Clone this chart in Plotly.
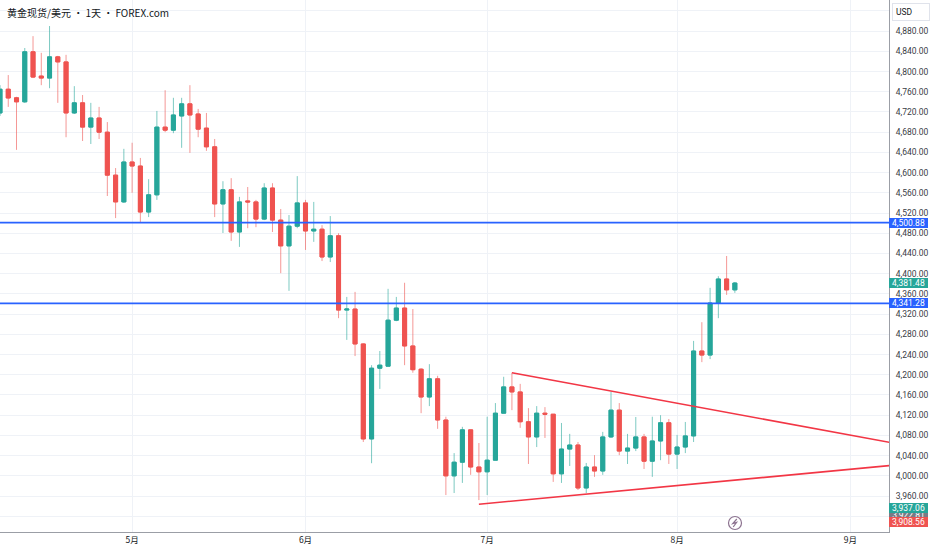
import plotly.graph_objects as go
import pandas as pd

# ---------------- data ----------------
dates = pd.bdate_range("2026-04-09", "2026-08-12")  # daily trading sessions

opens = [4718, 4765, 4748, 4740, 4839, 4791, 4787, 4829, 4819, 4718,
         4738, 4690, 4708, 4680, 4595, 4542, 4621, 4613, 4522, 4556,
         4690, 4684, 4712, 4736, 4716, 4688, 4651, 4538, 4566, 4482.5,
         4544, 4542, 4508, 4569.5, 4506, 4455, 4494, 4540, 4484.5, 4488,
         4433, 4475, 4328, 4330, 4261, 4073, 4213, 4217, 4308, 4332,
         4257, 4211, 4156, 4192, 4110.5, 4000, 4027, 4091, 4017.5, 4008,
         4031, 4124, 4176, 4166, 4107, 4077, 4124, 4122, 4004, 4053,
         4061, 3976, 4017.5, 4009.6, 4077, 4130, 4049, 4055, 4077, 4029,
         4069, 4105, 4043, 4057, 4079, 4247, 4239, 4342, 4389.5, 4368]

highs = [4773, 4793, 4750, 4846.5, 4870, 4837, 4890, 4831, 4833, 4771,
         4753.5, 4738, 4730, 4700, 4609, 4647, 4659, 4629, 4587, 4722,
         4763, 4748, 4748, 4773, 4726, 4718, 4666.5, 4583, 4589, 4552,
         4571.5, 4546, 4579, 4579, 4528, 4516, 4593, 4546, 4542, 4496,
         4514, 4480, 4354, 4364, 4262, 4219, 4247, 4370, 4354, 4382,
         4330, 4213, 4221, 4198, 4117, 4045, 4097, 4091, 4065, 4117,
         4144, 4196, 4204, 4182, 4134, 4138, 4136, 4122, 4104.6, 4083,
         4067, 4025.5, 4041, 4087, 4166, 4144, 4083, 4116.5, 4083, 4117,
         4120, 4112.5, 4081, 4106.6, 4267, 4304, 4372, 4395, 4435, 4383.6]

lows = [4712, 4730, 4645, 4738, 4787, 4773, 4767, 4738, 4670, 4716,
        4662.5, 4656.6, 4666.5, 4553.7, 4510, 4540, 4560, 4502, 4512, 4546,
        4680, 4678, 4649, 4639, 4670, 4643, 4512, 4480.5, 4465, 4453,
        4490, 4492, 4506, 4482.5, 4401, 4366, 4490, 4447, 4463, 4425,
        4423, 4312, 4269, 4237, 4067, 4025, 4172, 4217, 4306, 4219,
        4204, 4124, 4138, 4093, 3962, 3966, 3986, 4002, 3952, 3962,
        4031, 4124, 4130, 4095, 4023.5, 4057, 4075, 3988, 3986, 4019.5,
        3972, 3966, 3998, 4002, 4075, 4041, 4023.5, 4049, 4013.6, 3998,
        4031, 4023.5, 4013.6, 4045, 4067, 4225, 4231, 4312, 4358, 4362]

closes = [4765, 4747.6, 4740, 4839, 4789, 4787, 4829, 4819, 4718, 4738,
          4690, 4708, 4680, 4595, 4542, 4621, 4613, 4522, 4556, 4690,
          4684, 4714, 4736, 4714, 4686, 4651, 4538, 4566, 4482.5, 4542,
          4542, 4508, 4569.5, 4506, 4455, 4494, 4540, 4484.5, 4488, 4433,
          4475, 4328, 4330, 4261, 4073, 4213, 4219, 4308, 4332, 4257,
          4210, 4156, 4192, 4110.5, 4000, 4027, 4091, 4017.5, 4008, 4031,
          4124, 4176, 4166, 4107, 4077, 4124, 4122, 4004, 4053, 4061,
          3976, 4017.5, 4009.6, 4077, 4130, 4049, 4055, 4077, 4029, 4069,
          4105, 4043, 4057, 4079, 4247, 4239, 4342, 4389.5, 4368, 4381.48]

month_ticks = ["2026-05-01", "2026-06-01", "2026-07-01", "2026-08-03", "2026-09-01"]
month_labels = ["5月", "6月", "7月", "8月", "9月"]

price_ticks = list(range(3960, 4881, 40))

hline_prices = [4500.88, 4341.28]

upper_line_dates = ["2026-07-06", "2026-09-10"]
upper_line_prices = [4204, 4059.5]
lower_line_dates = ["2026-06-30", "2026-09-10"]
lower_line_prices = [3943.9, 4023.8]

label_prices = [4500.88, 4381.48, 4341.28, 3922.81, 3937.06, 3908.56]
label_colors = ["#2962ff", "#26a69a", "#2962ff", "#787b86", "#26a69a", "#ef5350"]

title_text = "黄金现货/美元 · 1天 · FOREX.com"

# ---------------- styling ----------------
GREEN = "#26a69a"
RED = "#ef5350"
GRID = "#eff2f7"
AXIS = "#9b9ea6"
TEXT = "#131722"
FONT = "Roboto, Liberation Sans, sans-serif"
PLOT_W, PLOT_H = 889, 532

body_high = [max(o, c) for o, c in zip(opens, closes)]
body_low = [min(o, c) for o, c in zip(opens, closes)]

fig = go.Figure()

# wicks (lighter)
fig.add_trace(go.Candlestick(
    x=dates, open=opens, high=highs, low=lows, close=closes,
    increasing=dict(line=dict(color="rgba(38,166,154,0.6)", width=1), fillcolor="rgba(38,166,154,0.6)"),
    decreasing=dict(line=dict(color="rgba(239,83,80,0.6)", width=1), fillcolor="rgba(239,83,80,0.6)"),
    hoverinfo="skip", showlegend=False,
))
# bodies
fig.add_trace(go.Candlestick(
    x=dates, open=opens, high=body_high, low=body_low, close=closes,
    increasing=dict(line=dict(color=GREEN, width=1), fillcolor=GREEN),
    decreasing=dict(line=dict(color=RED, width=1), fillcolor=RED),
    hoverinfo="skip", showlegend=False,
))

# trend lines (triangle)
fig.add_trace(go.Scatter(x=upper_line_dates, y=upper_line_prices, mode="lines",
                         line=dict(color="#f23645", width=1.6), hoverinfo="skip", showlegend=False))
fig.add_trace(go.Scatter(x=lower_line_dates, y=lower_line_prices, mode="lines",
                         line=dict(color="#f23645", width=1.6), hoverinfo="skip", showlegend=False))

# horizontal levels
for p in hline_prices:
    fig.add_shape(type="line", xref="paper", x0=0, x1=1, yref="y", y0=p, y1=p,
                  line=dict(color="#2962ff", width=1.8))

# price labels on axis
for p, c in zip(label_prices, label_colors):
    fig.add_annotation(xref="paper", x=1, xanchor="left", xshift=0,
                       yref="y", y=p, yanchor="middle",
                       text=f"{p:,.2f}", showarrow=False,
                       font=dict(color="white", size=8.5, family=FONT),
                       bgcolor=c, borderwidth=0, borderpad=0,
                       width=39, height=10)

# USD box
fig.add_annotation(xref="paper", x=1, xanchor="left", xshift=3,
                   yref="paper", y=1, yanchor="top", yshift=-3,
                   text="USD", showarrow=False,
                   font=dict(color=TEXT, size=8.5, family=FONT),
                   bgcolor="white", bordercolor="#e0e3eb", borderwidth=1, borderpad=3,
                   width=30, align="left")

# title
fig.add_annotation(xref="paper", x=0, xanchor="left", xshift=5,
                   yref="paper", y=1, yanchor="middle", yshift=-12,
                   text=title_text, showarrow=False,
                   font=dict(color=TEXT, size=10, family="Noto Sans CJK SC"))

# lightning icon (decoration, pixel placement inside plot area)
cx, cy = 735, 523
def px(x):
    return x / PLOT_W
def py(y):
    return (PLOT_H - y) / PLOT_H
fig.add_shape(type="circle", xref="paper", yref="paper",
              x0=px(cx - 6.5), x1=px(cx + 6.5), y0=py(cy + 6.5), y1=py(cy - 6.5),
              line=dict(color="#8d7390", width=1.2))
bolt = [(cx + 1.8, cy - 4), (cx - 2.2, cy + 0.6), (cx + 1.6, cy - 0.6), (cx - 1.8, cy + 4)]
path = "M " + " L ".join(f"{px(x):.5f},{py(y):.5f}" for x, y in bolt)
fig.add_shape(type="path", xref="paper", yref="paper", path=path,
              line=dict(color="#8d7390", width=1.2))

fig.update_layout(
    width=932, height=550,
    margin=dict(l=0, r=43, t=0, b=18),
    paper_bgcolor="white", plot_bgcolor="white",
    font=dict(family=FONT, color=TEXT, size=8.5),
    showlegend=False,
    xaxis=dict(
        type="date",
        rangebreaks=[dict(bounds=["sat", "mon"])],
        range=["2026-04-09", "2026-09-07 16:00"],
        tickmode="array", tickvals=month_ticks, ticktext=month_labels,
        showgrid=True, gridcolor=GRID, gridwidth=1,
        showline=True, linecolor=AXIS, linewidth=1,
        ticks="", zeroline=False,
        rangeslider=dict(visible=False),
        tickfont=dict(size=8.5, family="Noto Sans CJK SC", color=TEXT),
    ),
    yaxis=dict(
        side="right",
        range=[3888.9, 4941.5],
        tickmode="array", tickvals=price_ticks, tickformat=",.2f",
        showgrid=True, gridcolor=GRID, gridwidth=1,
        minor=dict(tickmode="linear", tick0=0, dtick=40, showgrid=True,
                   gridcolor=GRID, gridwidth=1, ticks=""),
        showline=True, linecolor=AXIS, linewidth=1,
        ticks="", zeroline=False,
        ticklabelstandoff=4,
        tickfont=dict(size=8.5, family=FONT, color="#3a3d46"),
    ),
)

fig.write_html("out.html", config={"displayModeBar": False},
               post_script="document.body.style.margin='0';")
